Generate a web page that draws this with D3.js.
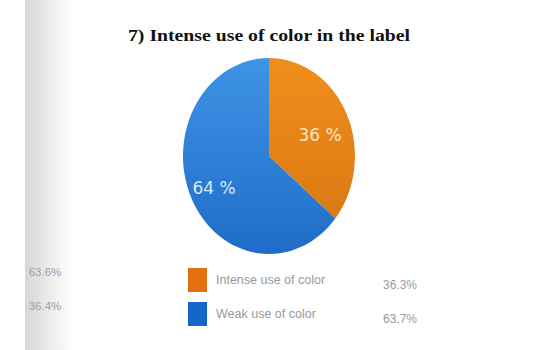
<!DOCTYPE html>
<html><head><meta charset="utf-8">
<script src="https://cdn.jsdelivr.net/npm/d3@7"></script>
<style>body{margin:0;background:#fff;}svg{display:block;}</style>
</head><body>
<script>
const title = "7) Intense use of color in the label";
const categories = ["Intense use of color", "Weak use of color"];
const values = [36, 64];
const legendValues = ["36.3%", "63.7%"];
const sideValues = ["63.6%", "36.4%"];
const legendColors = ["#e2700f", "#1467c9"];

const W = 534, H = 350;
const svg = d3.select("body").append("svg").attr("width", W).attr("height", H);
const defs = svg.append("defs");
const g1 = defs.append("linearGradient").attr("id","strip").attr("x1","0").attr("x2","1");
g1.append("stop").attr("offset","0").attr("stop-color","#d6d6d6");
g1.append("stop").attr("offset","0.5").attr("stop-color","#ebebeb");
g1.append("stop").attr("offset","1").attr("stop-color","#ffffff");
svg.append("rect").attr("x",25).attr("y",0).attr("width",48).attr("height",H).attr("fill","url(#strip)");

const gb = defs.append("linearGradient").attr("id","gblue").attr("x1","0").attr("y1","0").attr("x2","0").attr("y2","1");
gb.append("stop").attr("offset","0").attr("stop-color","#3f94e6");
gb.append("stop").attr("offset","1").attr("stop-color","#1f6cc8");
const go = defs.append("linearGradient").attr("id","gorange").attr("x1","0").attr("y1","0").attr("x2","0").attr("y2","1");
go.append("stop").attr("offset","0").attr("stop-color","#f08e1c");
go.append("stop").attr("offset","1").attr("stop-color","#dc7a14");
const fills = ["url(#gorange)", "url(#gblue)"];

svg.append("text").attr("x",269).attr("y",41).attr("text-anchor","middle")
  .attr("font-family","Liberation Serif, serif").attr("font-weight","bold").attr("font-size",16)
  .attr("fill","#111").attr("textLength",282).attr("lengthAdjust","spacingAndGlyphs").text(title);

const cx = 269, cy = 156, rx = 86, ry = 98;
const pie = d3.pie().sort(null).value(d => d)(values);
const arc = d3.arc().innerRadius(0).outerRadius(rx);
const pg = svg.append("g").attr("transform", `translate(${cx},${cy}) scale(1,${ry/rx})`);
pg.selectAll("path").data(pie).join("path").attr("d", arc).attr("fill",(d,i)=>fills[i]);

const labelPos = [[320,141],[214,194]];
svg.selectAll("text.pl").data(pie).join("text").attr("class","pl")
  .attr("x",(d,i)=>labelPos[i][0]).attr("y",(d,i)=>labelPos[i][1]).attr("text-anchor","middle")
  .attr("font-family","DejaVu Sans, sans-serif").attr("font-size",17)
  .attr("fill",(d,i)=> i===0 ? "#fde6c8" : "#dbe9fb")
  .text(d => d.data + " %");

const lg = svg.append("g");
categories.forEach((c,i)=>{
  const y = 268 + i*34;
  lg.append("rect").attr("x",188).attr("y",y).attr("width",19).attr("height",24).attr("fill",legendColors[i]);
  lg.append("text").attr("x",216).attr("y",y+16).attr("font-family","Liberation Sans, sans-serif")
    .attr("font-size",12.5).attr("fill","#999").text(c);
  lg.append("text").attr("x",400).attr("y",y+21).attr("text-anchor","middle").attr("font-family","Liberation Sans, sans-serif")
    .attr("font-size",12).attr("fill","#999").text(legendValues[i]);
  svg.append("text").attr("x",45).attr("y",276 + i*34).attr("text-anchor","middle").attr("font-family","Liberation Sans, sans-serif")
    .attr("font-size",11.5).attr("fill","#a0a0a0").text(sideValues[i]);
});
</script>
</body></html>
